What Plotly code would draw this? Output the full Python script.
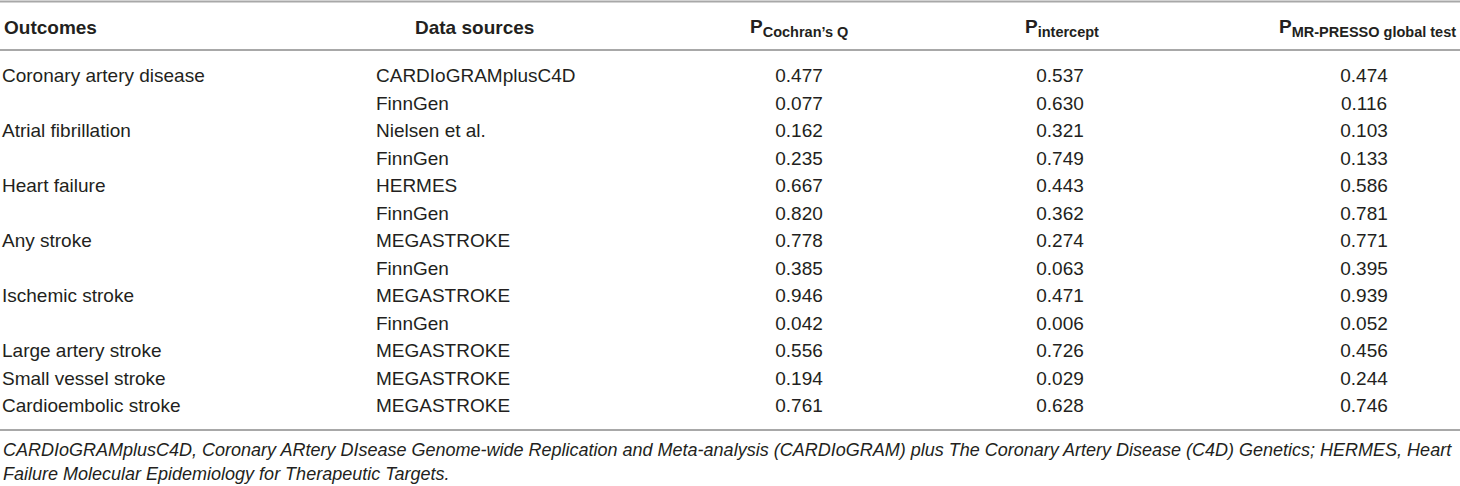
import plotly.graph_objects as go

# Table content
outcomes = ["Coronary artery disease", "", "Atrial fibrillation", "", "Heart failure", "",
            "Any stroke", "", "Ischemic stroke", "", "Large artery stroke",
            "Small vessel stroke", "Cardioembolic stroke"]
data_sources = ["CARDIoGRAMplusC4D", "FinnGen", "Nielsen et al.", "FinnGen", "HERMES", "FinnGen",
                "MEGASTROKE", "FinnGen", "MEGASTROKE", "FinnGen", "MEGASTROKE",
                "MEGASTROKE", "MEGASTROKE"]
p_cochran = [0.477, 0.077, 0.162, 0.235, 0.667, 0.820, 0.778, 0.385, 0.946, 0.042, 0.556, 0.194, 0.761]
p_intercept = [0.537, 0.630, 0.321, 0.749, 0.443, 0.362, 0.274, 0.063, 0.471, 0.006, 0.726, 0.029, 0.628]
p_presso = [0.474, 0.116, 0.103, 0.133, 0.586, 0.781, 0.771, 0.395, 0.939, 0.052, 0.456, 0.244, 0.746]

headers = ["Outcomes", "Data sources", ("P", "Cochran’s Q"),
           ("P", "intercept"), ("P", "MR-PRESSO global test")]
footnote = ["CARDIoGRAMplusC4D, Coronary ARtery DIsease Genome-wide Replication and Meta-analysis "
            "(CARDIoGRAM) plus The Coronary Artery Disease (C4D) Genetics; HERMES, Heart",
            "Failure Molecular Epidemiology for Therapeutic Targets."]

W, H = 1460, 486
FONT = "Liberation Sans, Arial, sans-serif"
TXT = "#231f20"
LINE = "#a8a8a8"
FS = 19

rows = list(range(len(outcomes)))
# row i sits at pixel 77.5 + 27.5*i
pitch, first = 27.5, 77.5
y_top = -first / pitch
y_bot = (H - first) / pitch


def py(pix):
    return 1 - pix / H


fig = go.Figure()

cols = [
    (outcomes, 2, "middle right"),
    (data_sources, 376, "middle right"),
    ([f"{v:.3f}" for v in p_cochran], 799, "middle center"),
    ([f"{v:.3f}" for v in p_intercept], 1060, "middle center"),
    ([f"{v:.3f}" for v in p_presso], 1364, "middle center"),
]
for vals, xpos, pos in cols:
    fig.add_trace(go.Scatter(
        x=[xpos] * len(vals), y=rows, text=vals, mode="text",
        textposition=pos, textfont=dict(family=FONT, size=FS, color=TXT),
        hoverinfo="skip", showlegend=False, cliponaxis=False,
    ))

# headers
hdr_x = [2, 413, 748, 1023, 1277]
for h, xp in zip(headers, hdr_x):
    if isinstance(h, tuple):
        h = f"{h[0]}<sub><span style='font-size:14.5px'>{h[1]}</span></sub>"
    fig.add_annotation(x=xp, y=py(28), xref="x", yref="paper", text=f"<b>{h}</b>",
                       showarrow=False, xanchor="left", yanchor="middle",
                       font=dict(family=FONT, size=FS, color=TXT))

# footnote
for line, pix in zip(footnote, [450, 474]):
    fig.add_annotation(x=1, y=py(pix), xref="x", yref="paper", text=f"<i>{line}</i>",
                       showarrow=False, xanchor="left", yanchor="middle",
                       font=dict(family=FONT, size=18, color=TXT))

# rules
for pix in [1.5, 50, 430]:
    fig.add_shape(type="line", xref="paper", yref="paper", x0=0, x1=1,
                  y0=py(pix), y1=py(pix), line=dict(color=LINE, width=2))

fig.update_xaxes(range=[0, W], visible=False, fixedrange=True)
fig.update_yaxes(range=[y_bot, y_top], visible=False, fixedrange=True)
fig.update_layout(
    width=W, height=H,
    margin=dict(l=0, r=0, t=0, b=0),
    paper_bgcolor="white", plot_bgcolor="white",
    showlegend=False,
)

fig.write_html("out.html", config={"displayModeBar": False},
               post_script="document.body.style.margin='0px';")
